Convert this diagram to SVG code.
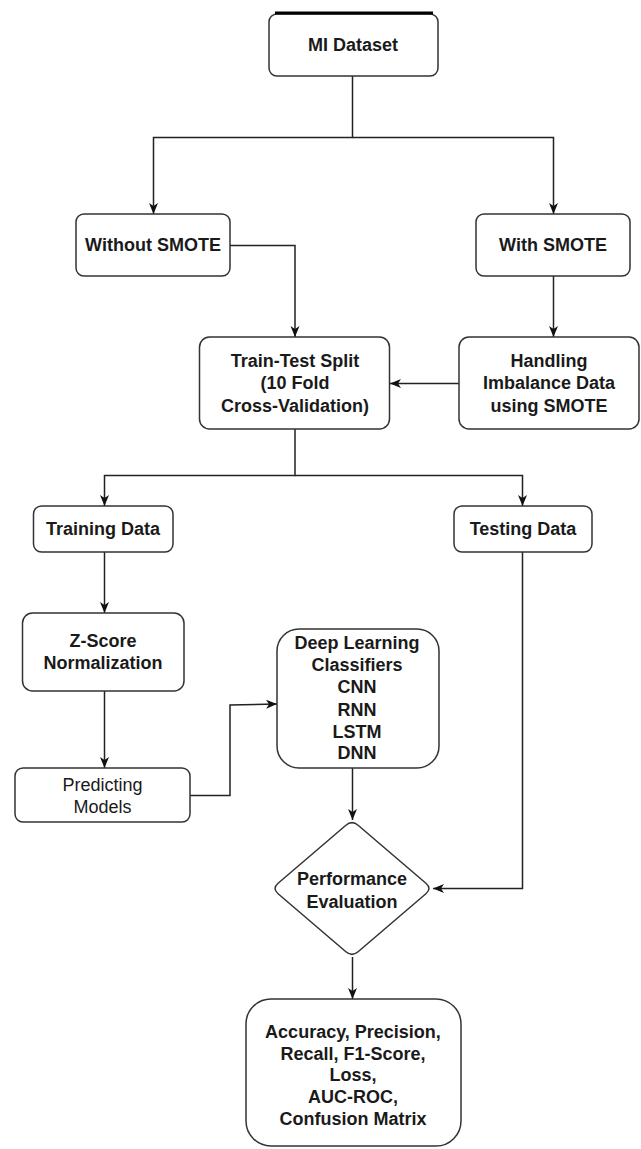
<svg xmlns="http://www.w3.org/2000/svg" width="641" height="1149" viewBox="0 0 641 1149">
<defs>
<marker id="arr" markerUnits="userSpaceOnUse" markerWidth="12" markerHeight="10" refX="11" refY="4.5" orient="auto">
<path d="M0,0 L11,4.5 L0,9 L3,4.5 Z" fill="#111"/>
</marker>
<style>
.box{fill:#fff;stroke:#333;stroke-width:1.5}
.t{font-family:"Liberation Sans",Arial,sans-serif;font-size:18px;font-weight:bold;fill:#1a1a1a;text-anchor:middle}
.r{font-weight:normal}
.c{fill:none;stroke:#222;stroke-width:1.5}
</style>
</defs>
<rect width="641" height="1149" fill="#fff"/>
<g id="connectors">
<path class="c" d="M352.5,76 V137.5 H153.5 V214" marker-end="url(#arr)"/>
<path class="c" d="M352.5,137.5 H553.5 V214" marker-end="url(#arr)"/>
<path class="c" d="M230,245.5 H295 V337" marker-end="url(#arr)"/>
<path class="c" d="M553.5,276 V337" marker-end="url(#arr)"/>
<path class="c" d="M459,383.5 H390" marker-end="url(#arr)"/>
<path class="c" d="M295,429 V475.5 H104.5 V506" marker-end="url(#arr)"/>
<path class="c" d="M295,475.5 H522.5 V506" marker-end="url(#arr)"/>
<path class="c" d="M104.5,552 V613" marker-end="url(#arr)"/>
<path class="c" d="M104.5,691 V768" marker-end="url(#arr)"/>
<path class="c" d="M190,795.5 H230 V705 L277,704" marker-end="url(#arr)"/>
<path class="c" d="M352.5,768 V820" marker-end="url(#arr)"/>
<path class="c" d="M522.5,552 V888.5 H433" marker-end="url(#arr)"/>
<path class="c" d="M352.5,957 V999" marker-end="url(#arr)"/>
</g>
<g id="mi-dataset">
<rect class="box" x="269" y="14" width="169" height="62" rx="8"/>
<line x1="275" y1="13" x2="433" y2="13" stroke="#000" stroke-width="3"/>
<text class="t" x="353" y="51">MI Dataset</text>
</g>
<g id="without-smote">
<rect class="box" x="76" y="214" width="154" height="62" rx="8"/>
<text class="t" x="153" y="251">Without SMOTE</text>
</g>
<g id="with-smote">
<rect class="box" x="476" y="214" width="154" height="62" rx="8"/>
<text class="t" x="553" y="251">With SMOTE</text>
</g>
<g id="train-test">
<rect class="box" x="199.5" y="337" width="190" height="92" rx="10"/>
<text class="t" x="295" y="367">Train-Test Split</text>
<text class="t" x="295" y="389">(10 Fold</text>
<text class="t" x="295" y="412">Cross-Validation)</text>
</g>
<g id="handling">
<rect class="box" x="459" y="337" width="180" height="92" rx="10"/>
<text class="t" x="549" y="367">Handling</text>
<text class="t" x="549" y="389">Imbalance Data</text>
<text class="t" x="549" y="412">using SMOTE</text>
</g>
<g id="training-data">
<rect class="box" x="33.5" y="506" width="139.5" height="46" rx="8"/>
<text class="t" x="103" y="535">Training Data</text>
</g>
<g id="testing-data">
<rect class="box" x="454" y="506" width="138" height="46" rx="8"/>
<text class="t" x="523" y="535">Testing Data</text>
</g>
<g id="z-score">
<rect class="box" x="22.5" y="613" width="161.5" height="78" rx="10"/>
<text class="t" x="103" y="647">Z-Score</text>
<text class="t" x="103" y="669">Normalization</text>
</g>
<g id="deep-learning">
<rect class="box" x="277" y="629" width="162" height="139" rx="22"/>
<text class="t" x="357" y="649">Deep Learning</text>
<text class="t" x="357" y="671">Classifiers</text>
<text class="t" x="357" y="693">CNN</text>
<text class="t" x="357" y="716">RNN</text>
<text class="t" x="357" y="738">LSTM</text>
<text class="t" x="357" y="759">DNN</text>
</g>
<g id="predicting">
<rect class="box" x="15" y="768" width="175" height="54" rx="8"/>
<text class="t r" x="102.5" y="791">Predicting</text>
<text class="t r" x="102.5" y="813">Models</text>
</g>
<g id="performance">
<path class="box" d="M345.9,825.2 Q352,820 358.1,825.2 L425.9,883.3 Q432,888.5 425.9,893.7 L358.1,951.8 Q352,957 345.9,951.8 L278.1,893.7 Q272,888.5 278.1,883.3 Z"/>
<text class="t" x="352" y="885">Performance</text>
<text class="t" x="352" y="908">Evaluation</text>
</g>
<g id="metrics">
<rect class="box" x="246" y="999" width="215" height="147" rx="25"/>
<text class="t" x="353" y="1038">Accuracy, Precision,</text>
<text class="t" x="353" y="1060">Recall, F1-Score,</text>
<text class="t" x="353" y="1081">Loss,</text>
<text class="t" x="353" y="1103">AUC-ROC,</text>
<text class="t" x="353" y="1125">Confusion Matrix</text>
</g>
</svg>
